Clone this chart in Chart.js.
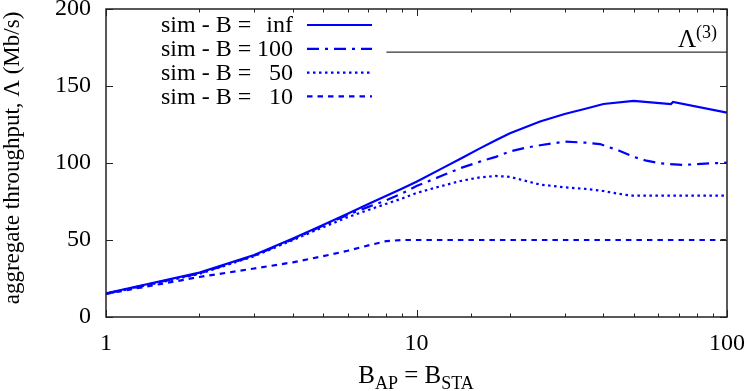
<!DOCTYPE html>
<html><head><meta charset="utf-8">
<script src="https://cdn.jsdelivr.net/npm/chart.js@4"></script>
<style>html,body{margin:0;padding:0;background:#fff}#c{display:block}</style>
</head><body>
<canvas id="c" width="747" height="391"></canvas>
<script>
// ---- data ----
const seriesLabels = ['inf', '100', '50', '10'];

const xInf = [1, 2, 3, 4, 5, 6, 7, 8, 9, 10, 12, 14, 16, 18, 20, 25, 30, 35, 40, 50, 66, 67, 100];
const yInf = [15.4, 28.8, 40.3, 51, 59.8, 67, 73.3, 78.7, 83.5, 87.8, 96.2, 103.3, 109.5, 114.8, 119.3, 127, 131.8, 135.2, 138.3, 140.3, 138.3, 139.6, 132.7];

const xB100 = [1, 2, 3, 4, 5, 6, 7, 8, 9, 10, 12, 14, 16, 18, 20, 22.6, 25, 30, 35, 39, 45, 50, 55, 61, 72, 85, 100];
const yB100 = [15.2, 28.3, 39.8, 50.5, 59.3, 66.3, 71.5, 75.8, 80.3, 85, 91.5, 97, 100.9, 104, 107.5, 110, 111.5, 113.9, 113.2, 112.3, 108, 104, 101.5, 99.8, 98.7, 99.6, 100.2];

const xB50 = [1, 2, 3, 4, 5, 6, 7, 8, 9, 10, 12, 14, 16, 18, 20, 25, 30, 35, 40, 44, 49, 100];
const yB50 = [15, 28, 39.5, 50, 58.3, 64.8, 69.5, 73.5, 77, 80.5, 85, 88.5, 90.7, 91.6, 91, 86, 84.2, 83.2, 81.8, 80.3, 78.8, 78.8];

const xB10 = [1, 2, 3, 4, 5, 6, 7, 8, 9, 10, 100];
const yB10 = [15, 26, 31.5, 35.5, 39.5, 43, 46.5, 49.3, 50, 50, 50];

const lambda3X = [8, 100];
const lambda3Y = [172, 172];

const xTickLabels = [1, 10, 100];
const yTickValues = [0, 50, 100, 150, 200];

// ---- helpers ----
const pts = (xs, ys) => xs.map((x, i) => ({ x: x, y: ys[i] }));
const FONT = '"Liberation Serif", "Times New Roman", serif';
const BLUE = 'rgb(0,0,255)';

const seriesStyles = [[], [12, 6, 3, 6], [2.5, 3.5], [5.5, 5]];
const seriesData = [pts(xInf, yInf), pts(xB100, yB100), pts(xB50, yB50), pts(xB10, yB10)];

const datasets = seriesLabels.map((lab, i) => ({
  label: 'sim - B = ' + lab,
  data: seriesData[i],
  borderColor: BLUE,
  borderWidth: 2.2,
  borderDash: seriesStyles[i],
  pointRadius: 0,
  tension: 0,
  fill: false
}));
datasets.push({
  label: 'lambda3',
  data: pts(lambda3X, lambda3Y),
  borderColor: '#000',
  borderWidth: 1,
  pointRadius: 0,
  fill: false
});

const decor = {
  id: 'decor',
  afterDraw(chart) {
    const { ctx, chartArea: a, scales: { x, y } } = chart;
    ctx.save();
    // inner ticks
    ctx.strokeStyle = '#222';
    ctx.lineWidth = 1;
    const line = (x1, y1, x2, y2) => { ctx.beginPath(); ctx.moveTo(x1, y1); ctx.lineTo(x2, y2); ctx.stroke(); };
    x.ticks.forEach(t => {
      const lg = Math.log10(t.value);
      const major = Math.abs(lg - Math.round(lg)) < 1e-9;
      const L = major ? 7 : 3.5;
      const px = Math.round(x.getPixelForValue(t.value)) + 0.5;
      line(px, a.bottom, px, a.bottom - L);
      line(px, a.top, px, a.top + L);
    });
    y.ticks.forEach(t => {
      const py = Math.round(y.getPixelForValue(t.value)) + 0.5;
      line(a.left, py, a.left + 7, py);
      line(a.right, py, a.right - 7, py);
    });
    // frame
    ctx.lineWidth = 1.5;
    ctx.strokeStyle = '#222';
    ctx.strokeRect(a.left, a.top, a.right - a.left, a.bottom - a.top);

    ctx.fillStyle = '#000';
    // legend
    ctx.font = '24px ' + FONT;
    ctx.textBaseline = 'middle';
    for (let i = 0; i < seriesLabels.length; i++) {
      const ds = chart.data.datasets[i];
      const ry = 25 + i * 23.8;
      ctx.textAlign = 'left';
      ctx.fillText('sim - B =', 161, ry + 1);
      ctx.textAlign = 'right';
      ctx.fillText(seriesLabels[i], 293, ry + 1);
      ctx.strokeStyle = ds.borderColor;
      ctx.lineWidth = ds.borderWidth;
      ctx.setLineDash(ds.borderDash || []);
      line(307, ry, 372, ry);
      ctx.setLineDash([]);
    }
    // Lambda^(3) label
    ctx.textBaseline = 'alphabetic';
    ctx.textAlign = 'right';
    ctx.font = '18px ' + FONT;
    ctx.fillText('(3)', 717, 38);
    const supW = ctx.measureText('(3)').width;
    ctx.font = '25px ' + FONT;
    ctx.fillText('Λ', 717 - supW, 47);

    // x title: B_AP = B_STA
    const parts = [['B', 25, 0], ['AP', 18, 6], [' = ', 25, 0], ['B', 25, 0], ['STA', 18, 6]];
    let tot = 0;
    parts.forEach(p => { ctx.font = p[1] + 'px ' + FONT; p.push(ctx.measureText(p[0]).width); tot += p[3]; });
    let cx = 416 - tot / 2;
    ctx.textAlign = 'left';
    parts.forEach(p => { ctx.font = p[1] + 'px ' + FONT; ctx.fillText(p[0], cx, 383 + p[2]); cx += p[3]; });

    // y title
    ctx.translate(13, 158);
    ctx.rotate(-Math.PI / 2);
    ctx.textAlign = 'center';
    ctx.textBaseline = 'middle';
    ctx.font = '23px ' + FONT;
    ctx.fillText('aggregate throughput, Λ (Mb/s)', 0, 0);
    ctx.restore();
  }
};

new Chart(document.getElementById('c'), {
  type: 'line',
  data: { datasets: datasets },
  options: {
    responsive: false,
    animation: false,
    devicePixelRatio: 1,
    layout: { padding: { left: 0, right: 20, top: 9, bottom: 0 } },
    plugins: { legend: { display: false }, tooltip: { enabled: false } },
    scales: {
      x: {
        type: 'logarithmic',
        min: 1, max: 100,
        grid: { display: false, drawTicks: false },
        border: { display: false },
        ticks: {
          autoSkip: false, maxRotation: 0, minRotation: 0,
          color: '#000', padding: 12,
          font: { family: FONT, size: 24 },
          callback: (v) => xTickLabels.includes(v) ? String(v) : ''
        },
        afterFit: (s) => { s.height = 74; s.paddingLeft = 0; s.paddingRight = 0; }
      },
      y: {
        type: 'linear',
        min: 0, max: 200,
        grid: { display: false, drawTicks: false },
        border: { display: false },
        afterBuildTicks: (s) => { s.ticks = yTickValues.map(v => ({ value: v })); },
        ticks: {
          color: '#000', padding: 15,
          font: { family: FONT, size: 24 },
          callback: (v) => String(v)
        },
        afterFit: (s) => { s.width = 106; s.paddingTop = 0; s.paddingBottom = 0; }
      }
    }
  },
  plugins: [decor]
});
</script>
</body></html>
